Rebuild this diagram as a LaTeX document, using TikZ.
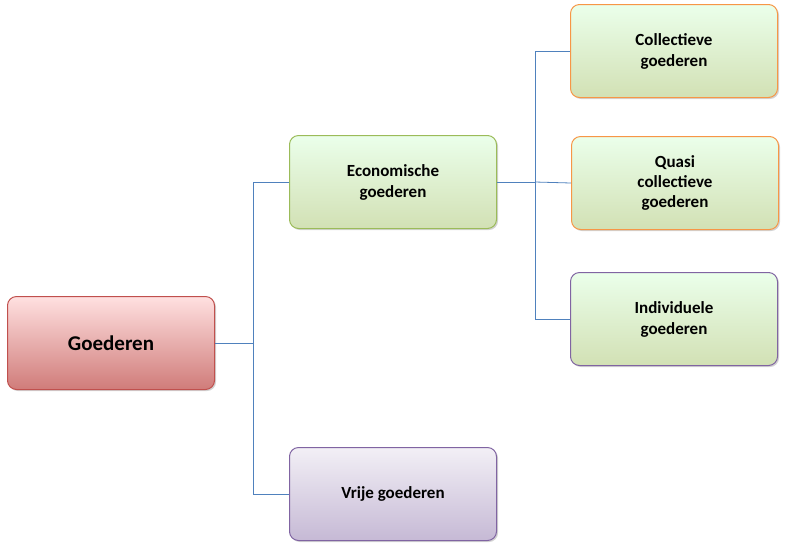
\documentclass[tikz,border=0pt]{standalone}
\usepackage{fontspec}
\setmainfont{Carlito}
\usetikzlibrary{shadows}
\definecolor{redb}{HTML}{C0504D}
\definecolor{greenb}{HTML}{9BBB59}
\definecolor{orangeb}{HTML}{F79646}
\definecolor{purpleb}{HTML}{8064A2}
\definecolor{linec}{HTML}{4F81BD}
\begin{document}
\begin{tikzpicture}[x=1pt,y=-1pt,
 box/.style={rounded corners=9pt,minimum width=207pt,minimum height=93pt,line width=1pt,align=center,font=\bfseries\fontsize{17}{21}\selectfont,drop shadow={shadow xshift=1.5pt,shadow yshift=-1.5pt,opacity=0.35}},
 gbox/.style={box,draw=greenb,top color=green!8!white,bottom color=greenb!45!white},
 conn/.style={draw=linec,line width=0.8pt}]
\useasboundingbox (0,0) rectangle (786,550);
\node[box,draw=redb,top color=red!12!white,bottom color=redb!75!white,font=\bfseries\fontsize{21}{25}\selectfont] (g) at (111,343) {Goederen};
\node[gbox] (e) at (393,182) {Economische\\goederen};
\node[box,draw=purpleb,top color=purpleb!10!white,bottom color=purpleb!45!white] (v) at (393,494) {Vrije goederen};
\node[gbox,draw=orangeb] (c) at (674,51) {Collectieve\\goederen};
\node[gbox,draw=orangeb,font=\bfseries\fontsize{17}{20}\selectfont] (q) at (675,183) {Quasi\\collectieve\\goederen};
\node[gbox,draw=purpleb] (i) at (674,319) {Individuele\\goederen};
\coordinate (j1) at (253,343);
\coordinate (j2) at (535,182);
\draw[conn] (g.east) -- (j1) |- (e.west);
\draw[conn] (j1) |- (v.west);
\draw[conn] (e.east) -- (j2) |- (c.west);
\draw[conn] (j2) -- (q.west);
\draw[conn] (j2) |- (i.west);
\end{tikzpicture}
\end{document}
